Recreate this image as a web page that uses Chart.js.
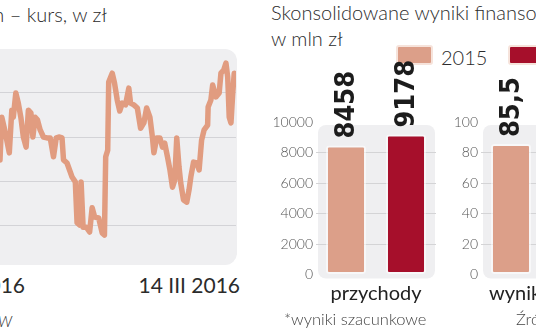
<!DOCTYPE html>
<html lang="pl">
<head>
<meta charset="utf-8">
<script src="https://cdn.jsdelivr.net/npm/chart.js@4"></script>
<style>
  html, body { margin: 0; padding: 0; }
  body { width: 536px; height: 332px; overflow: hidden; position: relative; background: #fff;
         font-family: Lato, "Open Sans", sans-serif; color: #2b2b2b; }
  .t { position: absolute; white-space: nowrap; line-height: 1; }
  canvas { position: absolute; }
  #panel { position: absolute; left: -20px; top: 49px; width: 257px; height: 216px;
           border-radius: 12px; background: #efeff1; }
  .box { position: absolute; top: 45px; width: 33px; height: 16px; border-radius: 3px; border: 2px solid #f6e3db; }
</style>
</head>
<body>
<!-- lewa strona: kurs -->
<div class="t" style="right:429px; top:4px; font-size:20px; font-weight:300;">n – kurs, w zł</div>
<div id="panel"></div>
<canvas id="kurs" width="236" height="220" style="left:0; top:49px;"></canvas>
<div class="t" id="os1" style="right:511px; top:274px; font-size:21px;"></div>
<div class="t" id="os2" style="right:296px; top:274px; font-size:21px;"></div>
<div class="t" style="right:524px; top:314px; font-size:15px; font-style:italic; font-weight:300;">W</div>

<!-- prawa strona: wyniki -->
<div class="t" style="left:271px; top:2px; font-size:20px; font-weight:300;">Skonsolidowane wyniki finansowe</div>
<div class="t" style="left:271px; top:28px; font-size:20px; font-weight:300;">w mln zł</div>
<div class="box" id="box1" style="left:396px;"></div>
<div class="t" id="lab1" style="left:441px; top:47px; font-size:20px; font-weight:300;"></div>
<div class="box" id="box2" style="left:508px;"></div>
<div class="t" id="lab2" style="left:553px; top:47px; font-size:20px; font-weight:300;"></div>

<canvas id="bar1" width="172" height="260" style="left:268px; top:60px;"></canvas>
<canvas id="bar2" width="200" height="260" style="left:433px; top:60px;"></canvas>
<div class="t" style="left:284px; top:311px; font-size:16.5px; font-weight:300; color:#444;">*wyniki szacunkowe</div>
<div class="t" style="left:516px; top:311px; font-size:16.5px; font-weight:300; color:#444;">Źródło: spółka</div>

<script>
// kurs akcji, dzien sesji i wartosc
const kursDni = [0, 0.7, 1.6, 2.7, 3.7, 4.7, 5.3, 6.3, 7.3, 8.3, 9.3, 10.4, 11.3, 12.3, 13.1, 14, 14.9, 16, 17.3, 18.7,
  20, 21.3, 22.4, 23.7, 24.7, 25.3, 26.7, 27.7, 28.7, 30, 30.7, 31.7, 32.3, 33.1, 34.4, 35.7, 36.7, 37.7, 39.3, 40.7,
  41.6, 42.1, 42.9, 43.3, 44.7, 45.6, 46.7, 47.7, 48.7, 50, 51.3, 52, 53.3, 54.7, 56, 57.3, 58.4, 59.7, 60.7, 61.3,
  62.4, 63.7, 64.7, 65.6, 66.7, 67.7, 68.7, 69.6, 70.4, 71.3, 72, 73.1, 74.4, 75.3, 76, 77.1, 78.4, 79.3, 80.3, 81.3,
  82.7, 82.9, 84, 84.7, 86, 87.3, 88, 89.1, 90, 90.7, 91.3, 92, 92.7, 93.3, 94];
const kursWartosci = [24.8, 34.5, 32.3, 29.3, 26.4, 36.1, 34.5, 40.0, 37.7, 34.5, 30.0, 27.7, 36.1, 35.5, 30.0, 34.5, 33.9, 31.6, 30.0, 29.8,
  29.8, 25.5, 29.8, 30.0, 29.8, 24.8, 24.1, 22.5, 20.9, 19.8, 10.5, 10.0, 19.8, 9.5, 9.5, 8.4, 13.9, 11.8, 11.6, 8.2,
  7.7, 25.5, 27.0, 42.5, 44.5, 42.3, 38.4, 35.9, 37.7, 37.3, 41.1, 37.7, 37.3, 36.6, 32.0, 33.2, 36.6, 34.5, 30.0, 26.4,
  29.8, 29.8, 27.7, 28.6, 25.5, 22.5, 18.6, 20.2, 29.8, 23.2, 19.5, 15.7, 15.2, 18.0, 20.9, 24.3, 24.1, 22.5, 29.3, 31.6,
  32.7, 36.8, 38.4, 41.8, 39.1, 40.0, 44.5, 45.2, 46.8, 43.6, 34.5, 33.2, 40.0, 44.5, 43.0];
const siatkaKursu = [0, 10, 20, 30, 40, 50];
const etykietyDat = ["2016", "14 III 2016"];

// wyniki finansowe, mln zl
const lata = ["2015", "2016"];
const kolory = ["#dc9f89", "#a60f2b"];
const kategorie1 = ["przychody"];
const przychody2015 = [8458];
const przychody2016 = [9178];
const kategorie2 = ["wynik netto"];
const wynik2015 = [85.5];
const wynik2016 = [null]; // poza kadrem
const ticki1 = [0, 2000, 4000, 6000, 8000, 10000];
const ticki2 = [0, 20, 40, 60, 80, 100];

document.getElementById("os1").textContent = etykietyDat[0];
document.getElementById("os2").textContent = etykietyDat[1];
document.getElementById("box1").style.background = kolory[0];
document.getElementById("box2").style.background = kolory[1];
document.getElementById("lab1").textContent = lata[0];
document.getElementById("lab2").textContent = lata[1];

new Chart(document.getElementById("kurs"), {
  type: "line",
  data: {
    datasets: [{
      data: kursDni.map((d, i) => ({ x: d, y: kursWartosci[i] })),
      borderColor: "#e19c80",
      borderWidth: 5.5,
      borderJoinStyle: "round",
      borderCapStyle: "round",
      pointRadius: 0,
      tension: 0,
    }],
  },
  options: {
    responsive: false,
    animation: false,
    layout: { padding: 0 },
    plugins: { legend: { display: false }, tooltip: { enabled: false } },
    scales: {
      x: { type: "linear", min: 0, max: 94, display: false },
      y: {
        min: 0,
        max: 50,
        afterBuildTicks: (s) => { s.ticks = siatkaKursu.map((v) => ({ value: v })); },
        afterFit: (s) => { s.width = 0; },
        ticks: { display: false },
        border: { display: false },
        grid: {
          drawTicks: false,
          color: (c) => (c.tick && (c.tick.value === 0 || c.tick.value === 50) ? "transparent" : "#d3d3d7"),
        },
      },
    },
  },
});

// tlo panelu i etykiety wartosci nad slupkami
const panelPlugin = {
  id: "panel",
  beforeDraw(chart) {
    const a = chart.chartArea;
    const ctx = chart.ctx;
    ctx.save();
    ctx.fillStyle = "#efeff1";
    ctx.beginPath();
    ctx.roundRect(a.left + 2, a.top + 3, a.right - a.left - 3, a.bottom - a.top + 1, 8);
    ctx.fill();
    ctx.restore();
  },
  afterDatasetsDraw(chart) {
    const ctx = chart.ctx;
    ctx.save();
    ctx.fillStyle = "#1c1c1c";
    ctx.font = 'bold 27px "Liberation Sans Narrow", "DejaVu Sans Condensed", sans-serif';
    ctx.textAlign = "left";
    ctx.textBaseline = "middle";
    chart.data.datasets.forEach((ds, di) => {
      chart.getDatasetMeta(di).data.forEach((bar, i) => {
        const v = ds.data[i];
        if (v == null) return;
        ctx.save();
        ctx.translate(bar.x, bar.y - 7);
        ctx.rotate(-Math.PI / 2);
        ctx.fillText(String(v).replace(".", ","), 0, 1);
        ctx.restore();
      });
    });
    ctx.restore();
  },
};

function barChart(id, kategorie, d2015, d2016, ticki, padRight) {
  const max = ticki[ticki.length - 1];
  return new Chart(document.getElementById(id), {
    type: "bar",
    data: {
      labels: kategorie,
      datasets: [
        { label: lata[0], data: d2015, backgroundColor: kolory[0] },
        { label: lata[1], data: d2016, backgroundColor: kolory[1] },
      ].map((ds) => Object.assign(ds, {
        borderColor: "rgba(255,255,255,0.55)",
        borderWidth: 2,
        borderRadius: 3,
        borderSkipped: false,
        categoryPercentage: 1,
        barPercentage: 0.667,
      })),
    },
    options: {
      responsive: false,
      animation: false,
      layout: { padding: { top: 62, right: padRight, left: 0, bottom: 0 } },
      plugins: { legend: { display: false }, tooltip: { enabled: false } },
      scales: {
        x: {
          afterFit: (s) => { s.height = 45.5; },
          grid: { display: false, drawTicks: false },
          border: { display: false },
          ticks: { padding: 7, color: "#222", font: { family: "Lato", size: 20 } },
        },
        y: {
          min: 0,
          max: max,
          afterBuildTicks: (s) => { s.ticks = ticki.map((v) => ({ value: v })); },
          afterFit: (s) => { s.width = 48; },
          border: { display: false },
          grid: {
            drawTicks: false,
            color: (c) => (c.tick && (c.tick.value === 0 || c.tick.value === max) ? "transparent" : "#d4d4d6"),
          },
          ticks: {
            padding: 3,
            color: "#555",
            font: { family: "Lato", size: 14, weight: 300 },
            callback: (v) => String(v),
          },
        },
      },
    },
    plugins: [panelPlugin],
  });
}

barChart("bar1", kategorie1, przychody2015, przychody2016, ticki1, 4);
barChart("bar2", kategorie2, wynik2015, wynik2016, ticki2, 32);
</script>
</body>
</html>
